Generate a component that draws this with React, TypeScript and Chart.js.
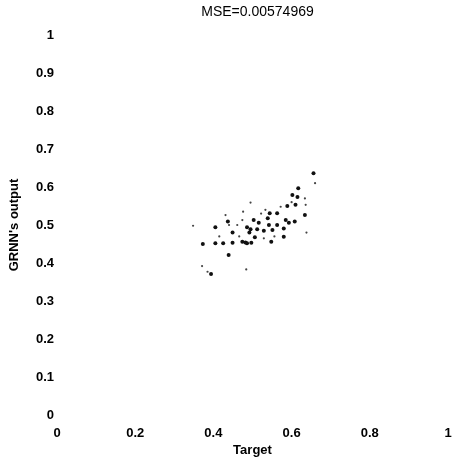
import React, { useEffect, useRef } from "react";
import { Chart, registerables } from "chart.js";

Chart.register(...registerables);

const titleText = "MSE=0.00574969";
const xLabel = "Target";
const yLabel = "GRNN's output";
const xTickValues = [0, 0.2, 0.4, 0.6, 0.8, 1];
const yTickValues = [0, 0.1, 0.2, 0.3, 0.4, 0.5, 0.6, 0.7, 0.8, 0.9, 1];

// Main (dark) points: target, GRNN output
const darkX = [0.373, 0.405, 0.405, 0.425, 0.439, 0.449, 0.449, 0.474, 0.482, 0.486, 0.497, 0.486, 0.492, 0.495, 0.506, 0.512, 0.516, 0.529, 0.542, 0.544, 0.539, 0.548, 0.551, 0.563, 0.580, 0.585, 0.593, 0.563, 0.589, 0.602, 0.615, 0.617, 0.610, 0.608, 0.634, 0.656, 0.394, 0.437, 0.503, 0.580];
const darkY = [0.450, 0.452, 0.494, 0.452, 0.421, 0.453, 0.480, 0.456, 0.454, 0.452, 0.453, 0.494, 0.480, 0.489, 0.468, 0.489, 0.506, 0.485, 0.500, 0.531, 0.518, 0.456, 0.487, 0.500, 0.491, 0.513, 0.506, 0.531, 0.550, 0.579, 0.574, 0.597, 0.553, 0.509, 0.526, 0.636, 0.371, 0.509, 0.513, 0.469];

// Lighter, smaller points
const lightX = [0.348, 0.385, 0.371, 0.484, 0.495, 0.476, 0.431, 0.474, 0.461, 0.529, 0.572, 0.634, 0.636, 0.660, 0.638, 0.440, 0.415, 0.522, 0.556, 0.600, 0.466, 0.533];
const lightY = [0.498, 0.377, 0.392, 0.383, 0.559, 0.535, 0.526, 0.513, 0.500, 0.465, 0.548, 0.570, 0.553, 0.610, 0.480, 0.500, 0.470, 0.530, 0.470, 0.560, 0.470, 0.540];

const FONT = "'Liberation Sans', Arial, Helvetica, sans-serif";

export default function App() {
  const ref = useRef<HTMLCanvasElement | null>(null);

  useEffect(() => {
    if (!ref.current) return;
    const titlePlugin = {
      id: "matlabTitle",
      afterDraw(chart: any) {
        const { ctx, chartArea } = chart;
        ctx.save();
        ctx.fillStyle = "#000";
        ctx.font = `14px ${FONT}`;
        ctx.textAlign = "center";
        ctx.textBaseline = "middle";
        ctx.fillText(titleText, (chartArea.left + chartArea.right) / 2 + 5, 12);
        ctx.restore();
      },
    };
    const chart = new Chart(ref.current, {
      type: "scatter",
      data: {
        datasets: [
          {
            label: "dark",
            data: darkX.map((x, i) => ({ x, y: darkY[i] })),
            pointRadius: 2,
            pointBorderWidth: 0,
            pointBackgroundColor: "#111",
            pointBorderColor: "#111",
          },
          {
            label: "light",
            data: lightX.map((x, i) => ({ x, y: lightY[i] })),
            pointRadius: 1.1,
            pointBorderWidth: 0,
            pointBackgroundColor: "#444",
            pointBorderColor: "#444",
          },
        ],
      },
      options: {
        animation: false,
        responsive: false,
        layout: { padding: { left: 0, right: 4, top: 35, bottom: 0 } },
        plugins: {
          legend: { display: false },
          tooltip: { enabled: false },
          title: { display: false },
        },
        scales: {
          x: {
            type: "linear",
            min: 0,
            max: 1,
            afterFit(scale: any) {
              scale.height = 47;
              scale.paddingLeft = 0;
              scale.paddingRight = 0;
            },
            afterBuildTicks(scale: any) {
              scale.ticks = xTickValues.map((v) => ({ value: v }));
            },
            grid: { display: false, drawTicks: false },
            border: { display: false },
            ticks: {
              padding: 11,
              color: "#000",
              font: { family: FONT, size: 13, weight: "bold" },
              maxRotation: 0,
              callback: (v: any) => String(v),
            },
            title: {
              display: true,
              text: xLabel,
              color: "#000",
              font: { family: FONT, size: 13, weight: "bold" },
              padding: { top: 0, bottom: 4 },
            },
          },
          y: {
            type: "linear",
            min: 0,
            max: 1,
            afterFit(scale: any) {
              scale.width = 57;
              scale.paddingTop = 0;
              scale.paddingBottom = 0;
            },
            afterBuildTicks(scale: any) {
              scale.ticks = yTickValues.map((v) => ({ value: v }));
            },
            grid: { display: false, drawTicks: false },
            border: { display: false },
            ticks: {
              padding: 3,
              color: "#000",
              font: { family: FONT, size: 13, weight: "bold" },
              callback: (v: any) => String(v),
            },
            title: {
              display: true,
              text: yLabel,
              color: "#000",
              font: { family: FONT, size: 13, weight: "bold" },
              padding: { top: 7, bottom: 0 },
            },
          },
        },
      },
      plugins: [titlePlugin],
    } as any);
    return () => chart.destroy();
  }, []);

  return (
    <div style={{ position: "fixed", left: 0, top: 0, width: 452, height: 462, background: "#fff" }}>
      <canvas ref={ref} width={452} height={462} style={{ width: 452, height: 462, display: "block" }} />
    </div>
  );
}
